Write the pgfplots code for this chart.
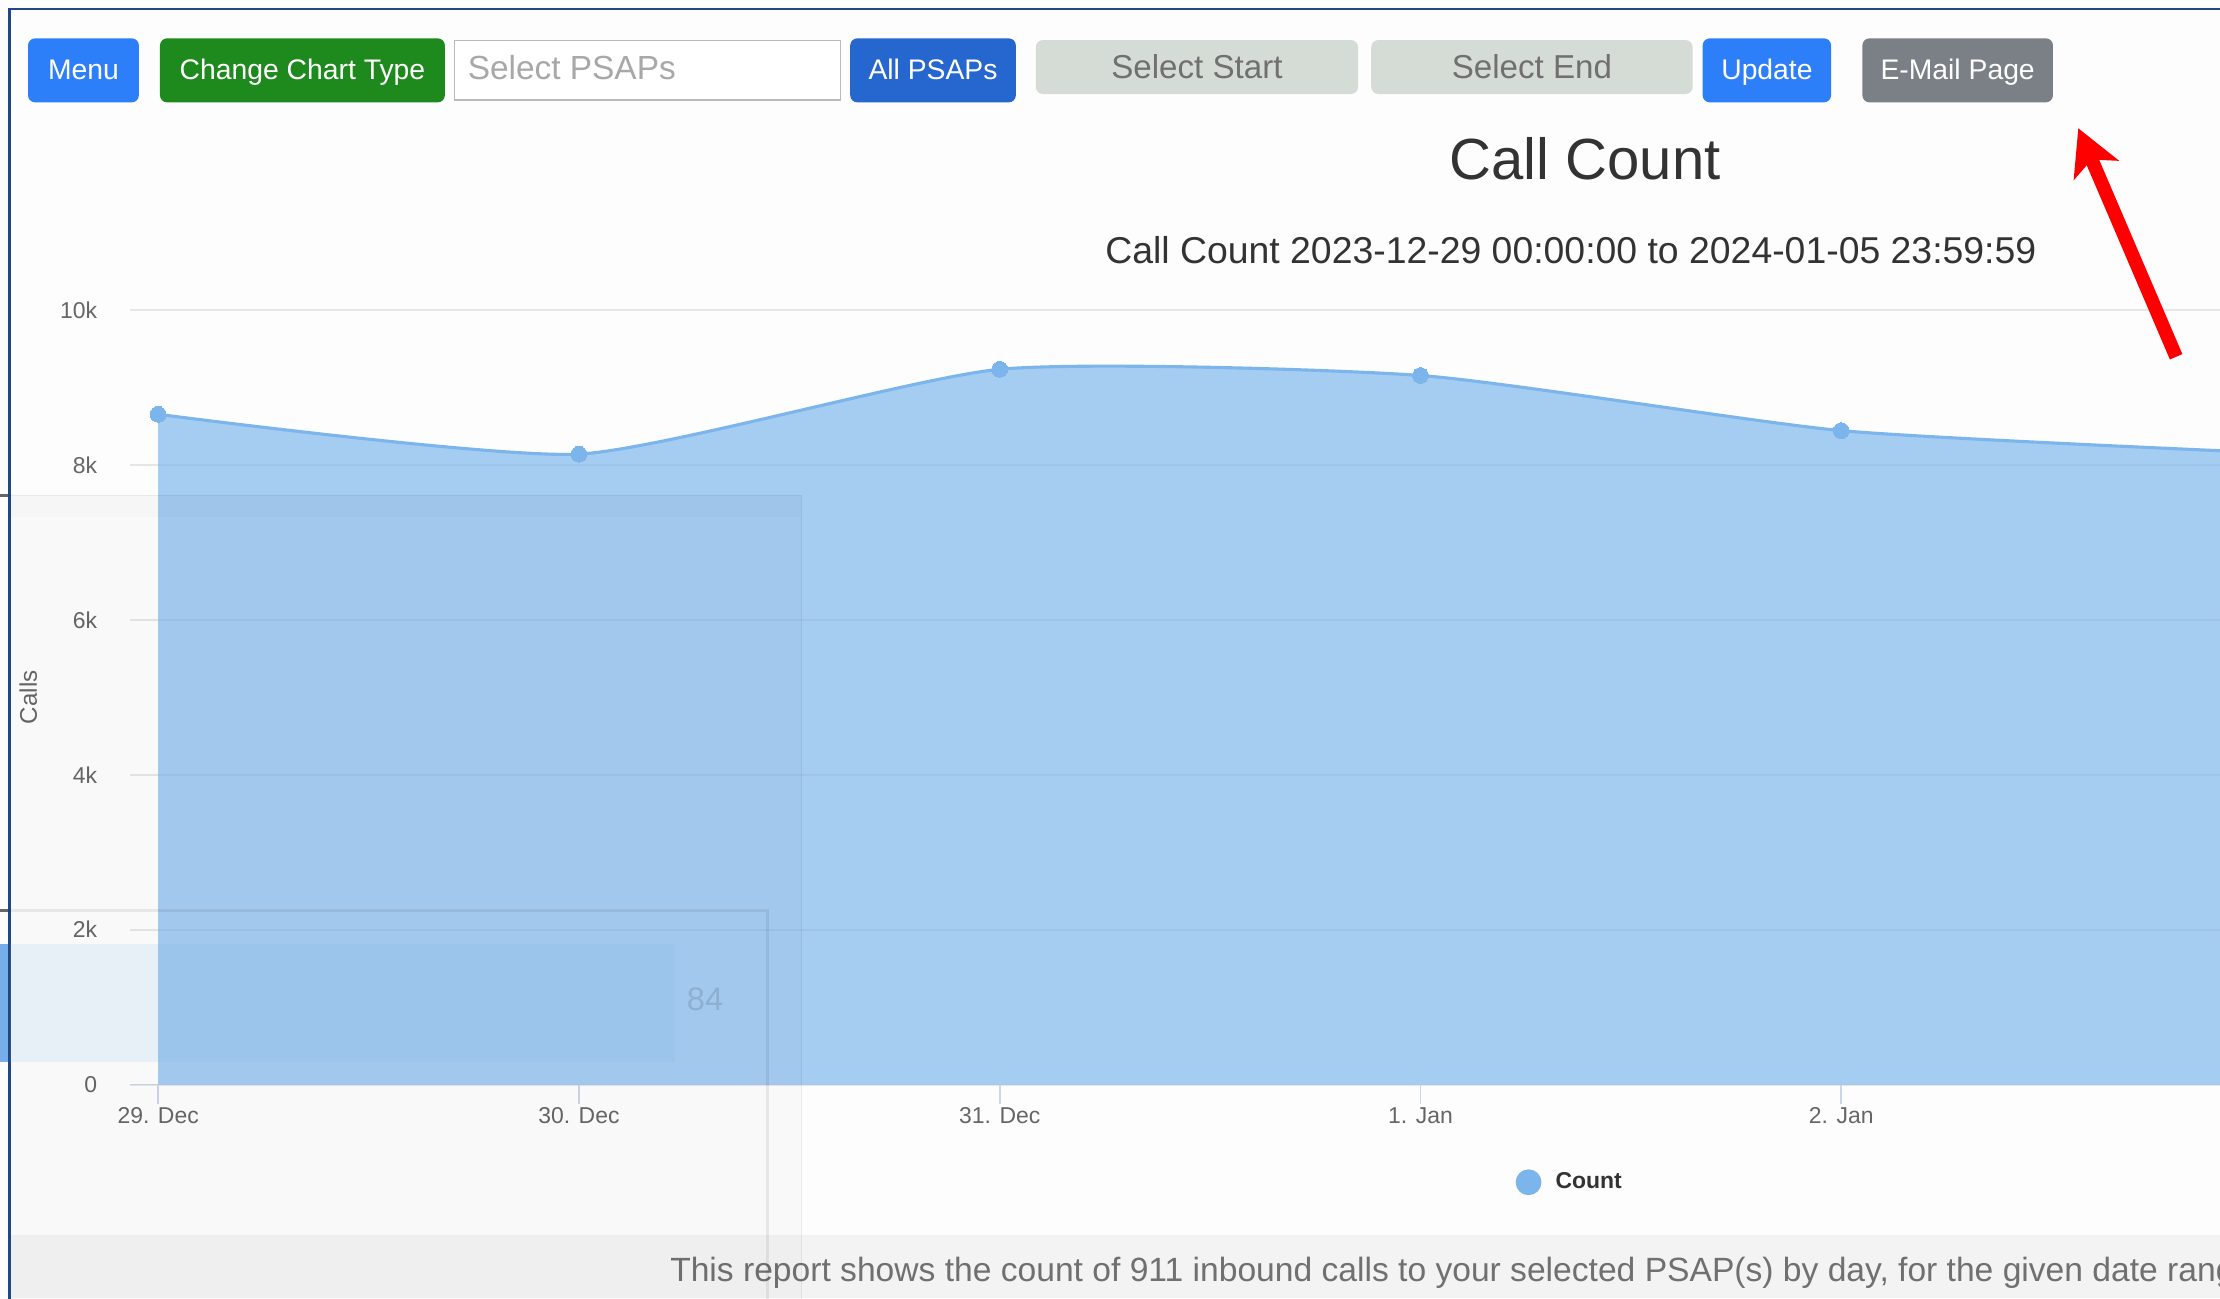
\documentclass[border=0pt]{standalone}
\usepackage{fontspec}
\setmainfont{Liberation Sans}
\usepackage{pgfplots}
\pgfplotsset{compat=1.18}
\usetikzlibrary{arrows.meta}
\definecolor{hcblue}{HTML}{7CB5EC}
\definecolor{btnblue}{HTML}{2D7FF9}
\definecolor{btndark}{HTML}{2667CF}
\definecolor{btngreen}{HTML}{1E8A1E}
\definecolor{btngray}{HTML}{D5DBD5}
\definecolor{btnsec}{HTML}{7A8086}
\definecolor{navy}{HTML}{234785}
\definecolor{gridc}{HTML}{E6E6E6}
\definecolor{axisc}{HTML}{CCD6EB}
\definecolor{labc}{HTML}{666666}
\definecolor{titlec}{HTML}{333333}
\definecolor{footbg}{HTML}{F3F3F3}
\definecolor{footc}{HTML}{707070}
\definecolor{phc}{HTML}{A8A8A8}
\definecolor{selc}{HTML}{707070}
\definecolor{stripc}{HTML}{76AEE9}
\definecolor{bgc}{HTML}{FDFDFD}

\begin{document}
\begin{tikzpicture}
\useasboundingbox (0,0) rectangle (784pt,458.5pt);
\clip (0,0) rectangle (784pt,458.5pt);
\begin{scope}[x=0.5pt,y=0.5pt]
  \fill[bgc] (0,0) rectangle (1568,917);
  % footer band
  \fill[footbg] (7,0) rectangle (1568,45);
  % border
  \draw[navy, line width=1pt] (6.5,-2) -- (6.5,910.6) -- (1580,910.6);
  % buttons
  \fill[btnblue, rounded corners=2.5pt] (19.8,844.7) rectangle (98.1,889.9);
  \node[anchor=base, text=white, font=\fontsize{10}{12}\selectfont] at (59,861) {Menu};
  \fill[btngreen, rounded corners=2.5pt] (113,844.7) rectangle (314.2,889.9);
  \node[anchor=base, text=white, font=\fontsize{10}{12}\selectfont] at (213.6,861) {Change Chart Type};
  \filldraw[fill=white, draw=black!27, line width=0.6pt] (321,846.4) rectangle (593.6,888.3);
  \node[anchor=base west, inner sep=0pt, text=phc, font=\fontsize{11.8}{14}\selectfont] at (330,861) {Select PSAPs};
  \fill[btndark, rounded corners=2.5pt] (600.5,844.7) rectangle (717.5,889.9);
  \node[anchor=base, text=white, font=\fontsize{10}{12}\selectfont] at (659,861) {All PSAPs};
  \fill[btngray, rounded corners=2.5pt] (731.6,850.6) rectangle (959.2,888.7);
  \node[anchor=base, text=selc, font=\fontsize{11.7}{14}\selectfont] at (845.4,861.7) {Select Start};
  \fill[btngray, rounded corners=2.5pt] (968.5,850.6) rectangle (1195.5,888.7);
  \node[anchor=base, text=selc, font=\fontsize{11.7}{14}\selectfont] at (1082,861.7) {Select End};
  \fill[btnblue, rounded corners=2.5pt] (1202.6,844.7) rectangle (1293.3,889.9);
  \node[anchor=base, text=white, font=\fontsize{10}{12}\selectfont] at (1248,861) {Update};
  \fill[btnsec, rounded corners=2.5pt] (1315.4,844.7) rectangle (1450,889.9);
  \node[anchor=base, text=white, font=\fontsize{10}{12}\selectfont] at (1382.7,861) {E-Mail Page};
  % titles
  \node[anchor=base, text=titlec, font=\fontsize{20.5}{24}\selectfont] at (1119.5,790) {Call Count};
  \node[anchor=base, text=titlec, font=\fontsize{13.2}{16}\selectfont] at (1109.5,731) {Call Count 2023-12-29 00:00:00 to 2024-01-05 23:59:59};
  % footer text
  \node[anchor=base west, inner sep=0pt, text=footc, font=\fontsize{11.87}{14}\selectfont] at (473,12) {This report shows the count of 911 inbound calls to your selected PSAP(s) by day, for the given date range.};
\end{scope}

\begin{axis}[
  at={(45.75pt,75.5pt)}, anchor=south west,
  scale only axis, width=827.4pt, height=273.5pt,
  xmin=-0.068, xmax=5.5, ymin=0, ymax=10000,
  axis x line*=bottom, axis y line*=left,
  x axis line style={draw=axisc, line width=0.6pt, -},
  y axis line style={draw=none},
  xtick={0,1,2,3,4},
  xticklabels={29. Dec,30. Dec,31. Dec,1. Jan,2. Jan},
  ytick={0,2000,4000,6000,8000,10000},
  yticklabels={0,2k,4k,6k,8k,10k},
  scaled y ticks=false,
  tick align=outside, major tick length=7pt,
  xtick style={draw=axisc, line width=0.6pt},
  ytick style={draw=none},
  ymajorgrids, y grid style={draw=gridc, line width=0.7pt},
  tick label style={text=labc, font=\fontsize{8.1}{10}\selectfont},
  yticklabel style={inner sep=0pt, xshift=-4.25pt},
  xticklabel style={inner sep=0pt, yshift=-1pt},
  ylabel={Calls},
  ylabel style={at={(axis description cs:-0.0432,0.5)}, anchor=center, text=labc, font=\fontsize{8.5}{10}\selectfont},
  legend style={at={(0.6155,-0.1262)}, anchor=center, draw=none, fill=none,
    font=\bfseries\fontsize{8.1}{10}\selectfont, text=titlec},
  legend image code/.code={\fill[hcblue] (0pt,0pt) circle (4pt); \path (7pt,0pt);},
]
\addplot[draw=none, fill=hcblue, fill opacity=0.68, smooth, tension=0.35, forget plot] coordinates {
  (0,8654) (1,8140) (2,9235) (3,9155) (4,8443) (5,8160)
} \closedcycle;
\addplot[color=hcblue, line width=1.1pt, smooth, tension=0.35, mark=*, mark size=2.8pt,
  mark options={fill=hcblue, draw=hcblue, line width=0pt}] coordinates {
  (0,8654) (1,8140) (2,9235) (3,9155) (4,8443) (5,8160)
};
\addlegendentry{Count}
\end{axis}

\begin{scope}[x=0.5pt,y=0.5pt]
  % ghost overlay panels
  \fill[black, opacity=0.016] (7,-5) rectangle (566,567);
  \fill[black, opacity=0.012] (7,552) rectangle (566,567);
  \draw[black, opacity=0.08, line width=0.6pt] (0,567) -- (566,567) -- (566,-5);
  \draw[black, opacity=0.07, line width=1.2pt] (0,274) -- (542,274) -- (542,-5);
  \draw[black!60, line width=1pt] (0,567) -- (6,567);
  \draw[black!60, line width=1pt] (0,274) -- (6,274);
  \fill[hcblue, opacity=0.14] (7,167) rectangle (477,250);
  \fill[stripc] (0,167) rectangle (5.8,250);
  \node[text=black, opacity=0.12, font=\fontsize{11.5}{12}\selectfont] at (498,211) {84};
  % red arrow
  \draw[red, line width=4.8pt, -{Stealth[length=16pt,width=17pt,inset=4pt]}] (1537,665) -- (1467.9,826.4);
\end{scope}
\end{tikzpicture}
\end{document}
